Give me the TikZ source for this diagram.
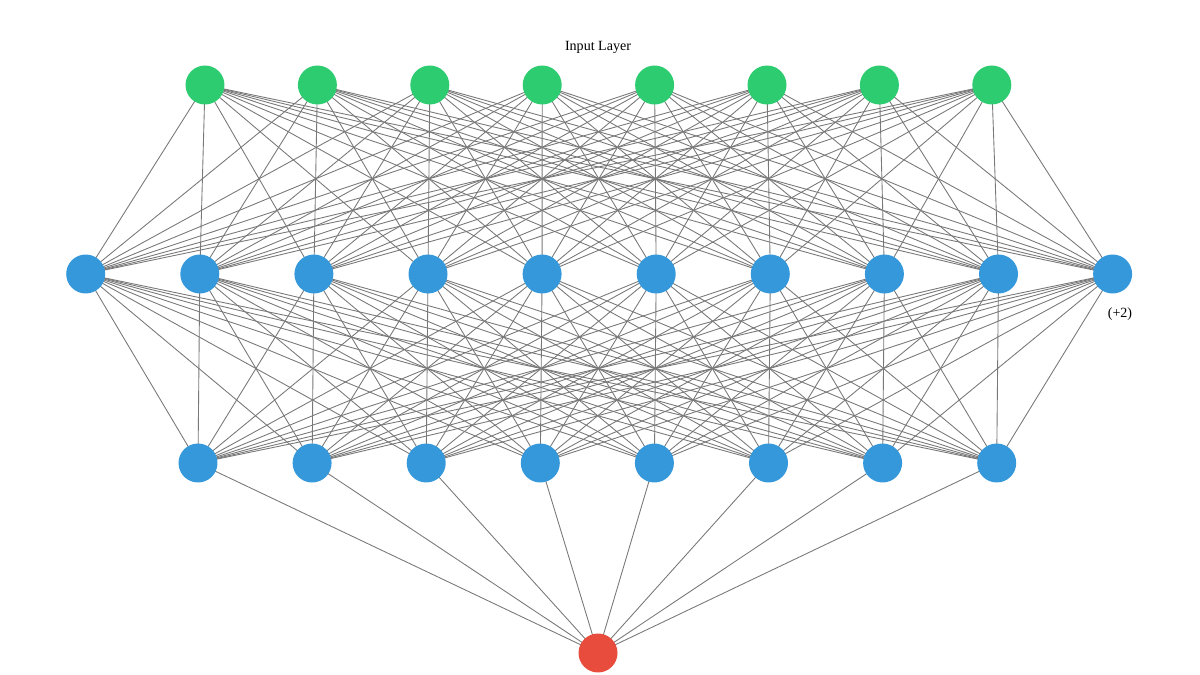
\documentclass[tikz,border=0pt]{standalone}
\usepackage{fontspec}
\setmainfont{Liberation Serif}
\definecolor{ingreen}{HTML}{2ECC71}
\definecolor{hidblue}{HTML}{3498DB}
\definecolor{outred}{HTML}{E74C3C}
\definecolor{edgegray}{RGB}{120,120,120}
\pgfdeclarelayer{bg}
\pgfsetlayers{bg,main}
\begin{document}
\begin{tikzpicture}[x=0.02cm,y=-0.02cm,
  neuron/.style={circle,minimum size=0.78cm,inner sep=0pt,draw=none},
  inneuron/.style={neuron,fill=ingreen},
  hidneuron/.style={neuron,fill=hidblue},
  outneuron/.style={neuron,fill=outred},
  edge/.style={draw=edgegray,line width=0.5pt},
  lbl/.style={font=\fontsize{8}{9.6}\selectfont,inner sep=0pt}]
\useasboundingbox (0,0) rectangle (1200,675);
% nodes
\foreach \i in {1,...,8}{
  \node[inneuron] (a\i) at ({205+112.4*(\i-1)},85) {};
}
\foreach \i in {1,...,10}{
  \node[hidneuron] (b\i) at ({85.7+114.1*(\i-1)},274) {};
}
\foreach \i in {1,...,8}{
  \node[hidneuron] (c\i) at ({198+114.1*(\i-1)},463) {};
}
\node[outneuron] (o) at (598,653) {};
\node[lbl] (title) at (598,47) {Input Layer};
\node[lbl] (more) at (1120,314) {(+2)};
% edges behind nodes
\begin{pgfonlayer}{bg}
\foreach \i in {1,...,8}{
  \foreach \j in {1,...,10}{
    \draw[edge] (a\i.center) -- (b\j.center);
  }
}
\foreach \i in {1,...,10}{
  \foreach \j in {1,...,8}{
    \draw[edge] (b\i.center) -- (c\j.center);
  }
}
\foreach \j in {1,...,8}{
  \draw[edge] (c\j.center) -- (o.center);
}
\end{pgfonlayer}
\end{tikzpicture}
\end{document}
